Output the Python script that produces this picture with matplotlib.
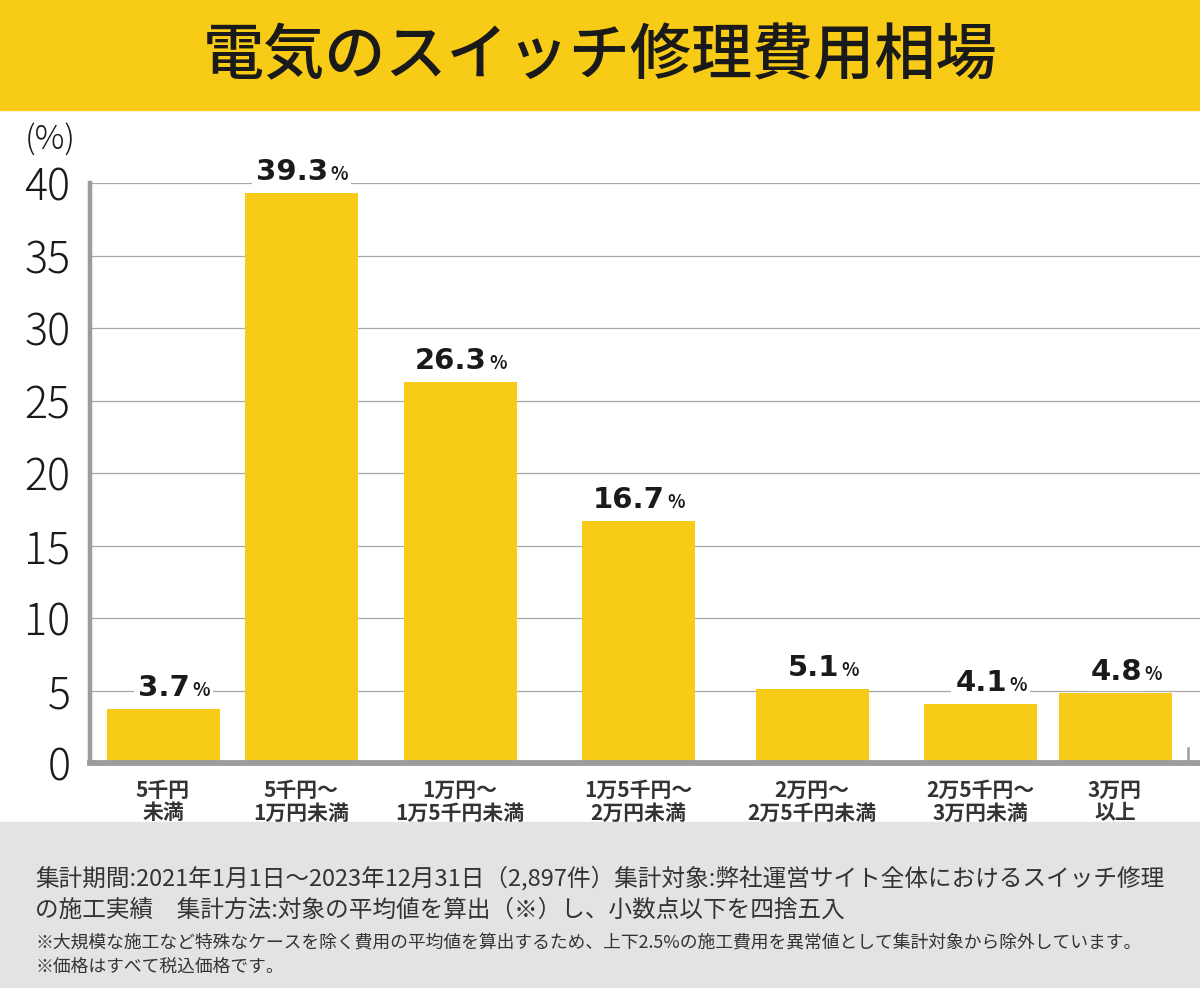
import matplotlib.pyplot as plt
from matplotlib.patches import Rectangle

plt.rcParams['font.family'] = ['Noto Sans CJK JP', 'DejaVu Sans']

# データ
categories = ["5千円\n未満", "5千円～\n1万円未満", "1万円～\n1万5千円未満", "1万5千円～\n2万円未満",
              "2万円～\n2万5千円未満", "2万5千円～\n3万円未満", "3万円\n以上"]
shares = [3.7, 39.3, 26.3, 16.7, 5.1, 4.1, 4.8]
yticks = [0, 5, 10, 15, 20, 25, 30, 35, 40]

title = "電気のスイッチ修理費用相場"
note_lines = [
    "集計期間:2021年1月1日～2023年12月31日（2,897件）集計対象:弊社運営サイト全体におけるスイッチ修理",
    "の施工実績　集計方法:対象の平均値を算出（※）し、小数点以下を四捨五入",
]
small_notes = [
    "※大規模な施工など特殊なケースを除く費用の平均値を算出するため、上下2.5%の施工費用を異常値として集計対象から除外しています。",
    "※価格はすべて税込価格です。",
]

# レイアウト (横位置は画像のピクセル単位)
BAR_X = [163, 301, 460, 638, 812, 980, 1115]
BAR_W = 113
YELLOW = "#F8CC16"
GRAY_AXIS = "#9C9C9C"

W, H = 1200, 988
fig = plt.figure(figsize=(W / 100, H / 100), dpi=100)

# タイトル帯
fig.patches.append(Rectangle((0, 1 - 110 / H), 1, 110 / H, transform=fig.transFigure,
                             color=YELLOW, zorder=0))
fig.text(0.5, 1 - 57 / H, title, ha="center", va="center", fontsize=44,
         fontweight="medium", color="#1a1a1a")

# フッター
fig.patches.append(Rectangle((0, 0), 1, 166 / H, transform=fig.transFigure,
                             color="#E3E3E3", zorder=0))
for i, line in enumerate(note_lines):
    fig.text(35 / W, 1 - (878 + 32 * i) / H, line, ha="left", va="center",
             fontsize=17, color="#333333")
for i, line in enumerate(small_notes):
    fig.text(35 / W, 1 - (942 + 25 * i) / H, line, ha="left", va="center",
             fontsize=12.8, color="#333333")

# グラフ
ax = fig.add_axes([90 / W, 1 - 763 / H, 1 - 90 / W, 580 / H])
ax.set_xlim(90, 1200)
ax.set_ylim(0, 40)
ax.bar(BAR_X, shares, width=BAR_W, color=YELLOW, zorder=2)

ax.set_yticks(yticks)
ax.set_yticklabels([str(t) for t in yticks], fontsize=31, fontweight="light", color="#1a1a1a")
ax.tick_params(axis="y", length=0, pad=14)
ax.yaxis.grid(True, color="#A8A8A8", linewidth=0.9, zorder=0)
ax.set_axisbelow(True)

ax.set_xticks(BAR_X)
ax.set_xticklabels(categories, fontsize=15, fontweight="bold", color="#333333",
                   linespacing=1.1)
ax.tick_params(axis="x", length=0, pad=12)

for s in ["top", "right"]:
    ax.spines[s].set_visible(False)
ax.spines["left"].set_color(GRAY_AXIS)
ax.spines["left"].set_linewidth(3.2)
ax.spines["bottom"].set_color(GRAY_AXIS)
ax.spines["bottom"].set_linewidth(4.2)
ax.plot([1188, 1188], [0, 1.05], color=GRAY_AXIS, linewidth=1.8, zorder=3)

# 値ラベル (白背景で罫線を隠す)
for x, v in zip(BAR_X, shares):
    ax.annotate(f"{v:.1f}", (x, v), xytext=(27, 7), textcoords="offset pixels",
                ha="right", va="bottom", fontsize=21, fontweight="bold", color="#1a1a1a",
                family=["DejaVu Sans"], zorder=4,
                bbox=dict(boxstyle="square,pad=0.15", fc="white", ec="none"))
    ax.annotate("%", (x, v), xytext=(29, 9), textcoords="offset pixels",
                ha="left", va="bottom", fontsize=13, fontweight="bold", color="#1a1a1a",
                zorder=4, bbox=dict(boxstyle="square,pad=0.2", fc="white", ec="none"))

fig.text(25 / W, 1 - 140 / H, "(%)", ha="left", va="center", fontsize=24,
         fontweight="light", color="#1a1a1a")

fig.savefig("out.png", dpi=100)
